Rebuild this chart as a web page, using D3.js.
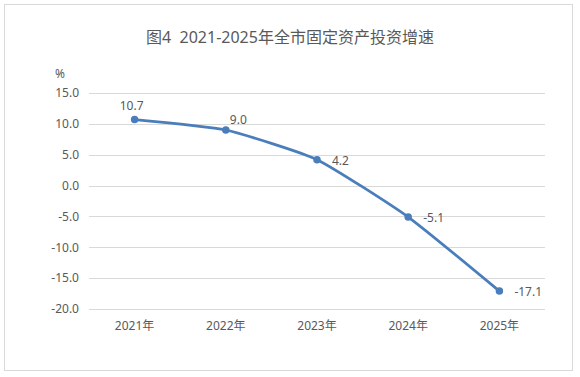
<!DOCTYPE html>
<html lang="zh">
<head>
<meta charset="UTF-8">
<title>图4 2021-2025年全市固定资产投资增速</title>
<script src="https://d3js.org/d3.v7.min.js"></script>
<style>
  body { margin: 0; background: #fff; }
  text { font-family: "Noto Sans", "Noto Sans CJK SC", sans-serif; fill: #595959; }
</style>
</head>
<body>
<script>
// chart data
const years = ["2021年", "2022年", "2023年", "2024年", "2025年"];
const growth = [10.7, 9.0, 4.2, -5.1, -17.1];
const yTicks = [15, 10, 5, 0, -5, -10, -15, -20];

// plain hyphen for negatives, like the original
const fmt = d => d3.format(".1f")(d).replace("−", "-");

const width = 580, height = 377;
const svg = d3.select("body").append("svg")
    .attr("width", width)
    .attr("height", height);

// outer frame
svg.append("rect")
    .attr("x", 4.5).attr("y", 4.5)
    .attr("width", 568).attr("height", 366)
    .attr("fill", "#fff")
    .attr("stroke", "#d9d9d9");

svg.append("text")
    .attr("x", 290).attr("y", 43)
    .attr("text-anchor", "middle")
    .attr("font-size", 16)
    .style("white-space", "pre")
    .text("图4  2021-2025年全市固定资产投资增速");

const x = d3.scaleBand().domain(years).range([89, 545]);
const y = d3.scaleLinear().domain([-20, 15]).range([309, 93]);

// gridlines
svg.append("g")
    .selectAll("line")
    .data(yTicks)
    .join("line")
    .attr("x1", 89).attr("x2", 545)
    .attr("y1", d => Math.round(y(d)) + 0.5)
    .attr("y2", d => Math.round(y(d)) + 0.5)
    .attr("stroke", "#d9d9d9");

// y axis labels
const yAxis = svg.append("g")
    .attr("transform", "translate(89,0)")
    .call(d3.axisLeft(y).tickValues(yTicks).tickFormat(fmt).tickSize(0).tickPadding(10));
yAxis.select(".domain").remove();
yAxis.selectAll("text").attr("font-size", 12).attr("font-family", null).attr("fill", null);

svg.append("text")
    .attr("x", 60).attr("y", 78)
    .attr("text-anchor", "middle")
    .attr("font-size", 12)
    .text("%");

// x axis labels
const xAxis = svg.append("g")
    .attr("transform", "translate(0,309)")
    .call(d3.axisBottom(x).tickSize(0).tickPadding(12));
xAxis.select(".domain").remove();
xAxis.selectAll("text").attr("font-size", 12).attr("font-family", null).attr("fill", null);

const pts = years.map((yr, i) => [x(yr) + x.bandwidth() / 2, y(growth[i])]);

svg.append("path")
    .datum(pts)
    .attr("fill", "none")
    .attr("stroke", "#4a7ebb")
    .attr("stroke-width", 2.75)
    .attr("stroke-linecap", "round")
    .attr("d", d3.line().curve(d3.curveCardinal.tension(0.5)));

svg.append("g")
    .selectAll("circle")
    .data(pts)
    .join("circle")
    .attr("cx", d => d[0])
    .attr("cy", d => d[1])
    .attr("r", 3.75)
    .attr("fill", "#4a7ebb");

// data labels: first above, second above-right, rest to the right
const labelDx = [-3, 4, 15, 15, 15];
const labelDy = [-10, -6, 5, 5, 5];
svg.append("g")
    .selectAll("text")
    .data(pts)
    .join("text")
    .attr("x", (d, i) => d[0] + labelDx[i])
    .attr("y", (d, i) => d[1] + labelDy[i])
    .attr("text-anchor", (d, i) => i === 0 ? "middle" : "start")
    .attr("font-size", 12)
    .text((d, i) => fmt(growth[i]));
</script>
</body>
</html>
